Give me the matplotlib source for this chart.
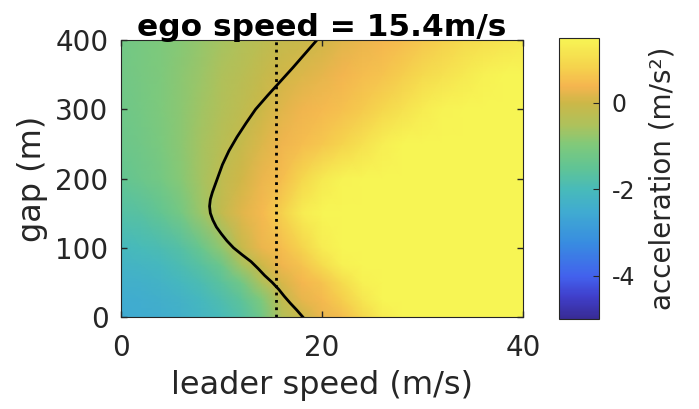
import numpy as np
import matplotlib.pyplot as plt
from matplotlib.colors import LinearSegmentedColormap

# leader speed grid (m/s) and gap grid (m)
leader_speed = [0, 2, 4, 6, 8, 10, 12, 14, 16, 18, 20, 22, 24, 26, 28, 30, 32, 34, 36, 38, 40]
gap = [0, 25, 50, 75, 100, 150, 200, 250, 300, 350, 400]

# acceleration (m/s^2), one row per gap value
acc_gap0   = [-2.55, -2.5, -2.45, -2.35, -2.2, -2.0, -1.75, -1.25, -0.45, -0.05, 0.3, 0.5, 0.9, 1.3, 1.5, 1.5, 1.5, 1.5, 1.5, 1.5, 1.5]
acc_gap25  = [-2.5, -2.45, -2.38, -2.28, -2.1, -1.85, -1.55, -1.0, -0.2, 0.25, 0.45, 0.75, 1.2, 1.5, 1.5, 1.5, 1.5, 1.5, 1.5, 1.5, 1.5]
acc_gap50  = [-2.4, -2.35, -2.25, -2.1, -1.9, -1.6, -1.2, -0.5, 0.1, 0.4, 0.6, 1.0, 1.4, 1.5, 1.5, 1.5, 1.5, 1.5, 1.5, 1.5, 1.5]
acc_gap75  = [-2.25, -2.2, -2.1, -1.9, -1.65, -1.3, -0.6, 0.0, 0.35, 0.6, 1.0, 1.4, 1.5, 1.5, 1.5, 1.5, 1.5, 1.5, 1.5, 1.5, 1.5]
acc_gap100 = [-2.1, -2.0, -1.9, -1.7, -1.35, -0.8, -0.1, 0.3, 0.5, 0.85, 1.3, 1.5, 1.5, 1.5, 1.5, 1.5, 1.5, 1.5, 1.5, 1.5, 1.5]
acc_gap150 = [-1.75, -1.65, -1.45, -1.15, -0.7, -0.2, 0.2, 0.45, 0.8, 1.3, 1.5, 1.5, 1.5, 1.5, 1.5, 1.5, 1.5, 1.5, 1.5, 1.5, 1.5]
acc_gap200 = [-1.45, -1.3, -1.15, -0.9, -0.6, -0.25, 0.05, 0.3, 0.5, 0.9, 1.25, 1.45, 1.5, 1.5, 1.5, 1.5, 1.5, 1.5, 1.5, 1.5, 1.5]
acc_gap250 = [-1.3, -1.2, -1.05, -0.85, -0.6, -0.35, -0.1, 0.15, 0.35, 0.5, 0.65, 0.85, 1.1, 1.35, 1.5, 1.5, 1.5, 1.5, 1.5, 1.5, 1.5]
acc_gap300 = [-1.25, -1.15, -1.0, -0.85, -0.65, -0.45, -0.25, 0.0, 0.2, 0.35, 0.45, 0.55, 0.7, 0.9, 1.1, 1.3, 1.45, 1.5, 1.5, 1.5, 1.5]
acc_gap350 = [-1.2, -1.1, -1.0, -0.85, -0.7, -0.5, -0.35, -0.15, 0.05, 0.15, 0.25, 0.38, 0.5, 0.6, 0.75, 0.95, 1.1, 1.25, 1.4, 1.5, 1.5]
acc_gap400 = [-1.2, -1.1, -1.0, -0.9, -0.75, -0.6, -0.45, -0.3, -0.15, -0.05, 0.05, 0.2, 0.3, 0.4, 0.5, 0.65, 0.8, 0.95, 1.05, 1.15, 1.25]

# black curve: leader speed at each gap
curve_gap = [0, 10, 20, 30, 40, 50, 60, 70, 80, 90, 100, 110, 120, 130, 140, 150, 160, 170, 180, 190,
             200, 220, 240, 260, 280, 300, 320, 340, 360, 380, 400]
curve_speed = [18.1, 17.5, 16.85, 16.25, 15.7, 15.05, 14.3, 13.65, 12.95, 12.05, 11.2, 10.55, 10.0, 9.5, 9.15, 8.9,
               8.82, 8.9, 9.1, 9.35, 9.6, 10.1, 10.75, 11.55, 12.45, 13.4, 14.6, 15.85, 17.1, 18.3, 19.5]

ego_speed = 15.4

# parula-like colours as they look in the picture
cmap_pos = [0.0, 0.08, 0.15, 0.27, 0.38, 0.46, 0.54, 0.62, 0.69, 0.77, 0.83, 0.9, 1.0]
cmap_rgb = [(0.22, 0.17, 0.58), (0.25, 0.25, 0.80), (0.26, 0.38, 0.93), (0.22, 0.55, 0.88),
            (0.25, 0.67, 0.82), (0.28, 0.73, 0.73), (0.38, 0.77, 0.58), (0.50, 0.79, 0.48),
            (0.68, 0.76, 0.36), (0.80, 0.72, 0.28), (0.96, 0.71, 0.31), (0.96, 0.83, 0.30),
            (0.97, 0.96, 0.33)]
cmap = LinearSegmentedColormap.from_list('parula_like', list(zip(cmap_pos, cmap_rgb)))

acc = np.array([acc_gap0, acc_gap25, acc_gap50, acc_gap75, acc_gap100, acc_gap150,
                acc_gap200, acc_gap250, acc_gap300, acc_gap350, acc_gap400])

dark = '#262626'
plt.rcParams['font.family'] = 'DejaVu Sans'

fig = plt.figure(figsize=(6.99, 4.09), dpi=100)
ax = fig.add_axes([0.173, 0.225, 0.575, 0.677])
mesh = ax.pcolormesh(leader_speed, gap, acc, cmap=cmap, vmin=-5, vmax=1.5, shading='gouraud')
ax.plot(curve_speed, curve_gap, color='black', linewidth=2)
ax.axvline(ego_speed, color='black', linestyle=':', linewidth=2)

ax.set_xlim(0, 40)
ax.set_ylim(0, 400)
ax.set_xticks([0, 20, 40])
ax.set_yticks([0, 100, 200, 300, 400])
ax.tick_params(direction='in', top=True, right=True, length=4, width=1,
               labelsize=20, colors=dark)
ax.tick_params(axis='x', pad=12)
ax.tick_params(axis='y', pad=9)
for s in ax.spines.values():
    s.set_color(dark)
ax.set_xlabel('leader speed (m/s)', fontsize=23, color=dark, labelpad=6)
ax.set_ylabel('gap (m)', fontsize=23, color=dark, labelpad=5)
ax.set_title('ego speed = 15.4m/s', fontsize=22.5, fontweight='bold', color='black', pad=3)

cax = fig.add_axes([0.8, 0.22, 0.057, 0.687])
cb = fig.colorbar(mesh, cax=cax)
cb.set_ticks([-4, -2, 0])
cb.set_ticklabels(['-4', '-2', '0'])
cax.tick_params(direction='in', length=4, labelsize=17, colors=dark, pad=9)
cb.outline.set_edgecolor(dark)
cb.set_label('acceleration (m/s²)', fontsize=20, color=dark, labelpad=10)

fig.savefig('out.png', dpi=100)
